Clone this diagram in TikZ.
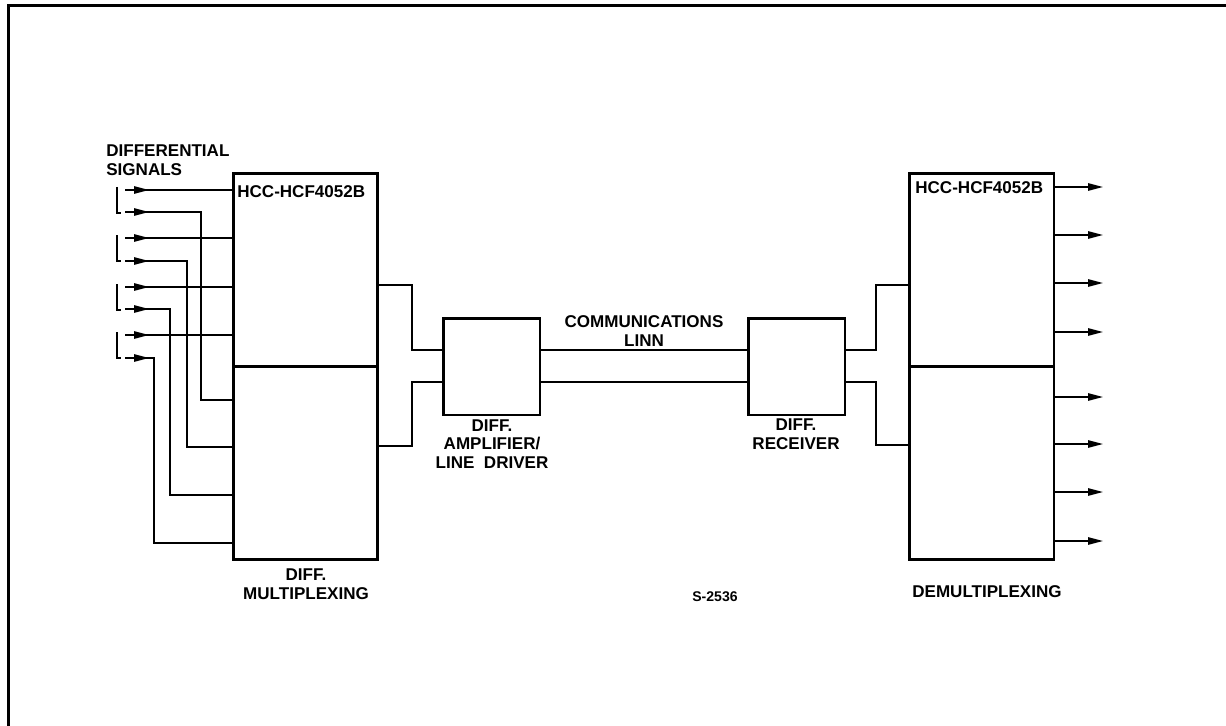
\documentclass[tikz,border=0pt]{standalone}
\usepackage{fontspec}
\setmainfont{Liberation Sans}
\usetikzlibrary{arrows.meta}

\begin{document}
\begin{tikzpicture}[x=0.02cm,y=-0.02cm]
\tikzset{
  block/.style={rectangle,draw,line width=1.7pt,inner sep=0pt},
  halfbox/.style={block,minimum width=2.9cm,minimum height=3.86cm},
  smallbox/.style={block,minimum width=1.94cm,minimum height=1.94cm},
  wire/.style={line width=0.85pt},
  sig/.style={wire,-{Triangle[length=8.5pt,width=4.2pt]}},
  frame/.style={line width=1.7pt},
  lbl/.style={font=\fontsize{9.7}{10.6}\selectfont\bfseries,align=center,inner sep=0pt},
  chip/.style={lbl,anchor=west}
}
\useasboundingbox (0,0) rectangle (1226,726);
\draw[frame] (8.5,726) -- (8.5,5.5) -- (1226,5.5);

% blocks
\node[halfbox] (muxA) at (305.5,270) {};
\node[halfbox] (muxB) at (305.5,463) {};
\node[halfbox] (dmxA) at (981.5,270) {};
\node[halfbox] (dmxB) at (981.5,463) {};
\node[smallbox] (drv) at (491.5,366.5) {};
\node[smallbox] (rcv) at (796.5,366.5) {};

% labels
\node[lbl,align=left,anchor=west] (l_in) at (106,160) {DIFFERENTIAL\\SIGNALS};
\node[chip] (l_chipA) at (237,192) {HCC-HCF4052B};
\node[chip] (l_chipB) at (915,188) {HCC-HCF4052B};
\node[lbl] (l_mux) at (306,584) {DIFF.\\MULTIPLEXING};
\node[lbl] (l_drv) at (492,444) {DIFF.\\AMPLIFIER/\\LINE\ \ DRIVER};
\node[lbl] (l_line) at (644,331) {COMMUNICATIONS\\LINN};
\node[lbl] (l_rcv) at (796,434) {DIFF.\\RECEIVER};
\node[lbl,font=\fontsize{8}{9}\selectfont\bfseries] (l_ref) at (715,597) {S-2536};
\node[lbl] (l_dmx) at (987,592) {DEMULTIPLEXING};

% differential inputs
\foreach \y in {190,238,287,335}
  \draw[wire] (117,\y-3) -- (117,\y+23) -- (121,\y+23);
\foreach \y [count=\i] in {190,212,238,261,287,309,335,358}
  \coordinate (in\i) at (125,\y);
\foreach \i in {1,...,8}
  \draw[sig] (in\i) -- ++(24,0);
\draw[wire] (in1) -- (muxA.west |- in1);
\draw[wire] (in3) -- (muxA.west |- in3);
\draw[wire] (in5) -- (muxA.west |- in5);
\draw[wire] (in7) -- (muxA.west |- in7);
\draw[wire] (in2) -| (201,400) -- (muxB.west |- 0,400);
\draw[wire] (in4) -| (187,447) -- (muxB.west |- 0,447);
\draw[wire] (in6) -| (170,495) -- (muxB.west |- 0,495);
\draw[wire] (in8) -| (154,543) -- (muxB.west |- 0,543);

% mux to line driver
\draw[wire] (muxA.east |- 0,285) -| (412,350) -- (drv.west |- 0,350);
\draw[wire] (muxB.east |- 0,446) -| (412,382) -- (drv.west |- 0,382);

% communications line
\draw[wire] (drv.east |- 0,350) -- (rcv.west |- 0,350);
\draw[wire] (drv.east |- 0,382) -- (rcv.west |- 0,382);

% receiver to demux
\draw[wire] (rcv.east |- 0,350) -| (876,285) -- (dmxA.west |- 0,285);
\draw[wire] (rcv.east |- 0,382) -| (876,445) -- (dmxB.west |- 0,445);

% demux outputs
\foreach \y in {187,235,283,332}
  \draw[sig] (dmxA.east |- 0,\y) -- (1103,\y);
\foreach \y in {397,444,492,541}
  \draw[sig] (dmxB.east |- 0,\y) -- (1103,\y);
\end{tikzpicture}
\end{document}
